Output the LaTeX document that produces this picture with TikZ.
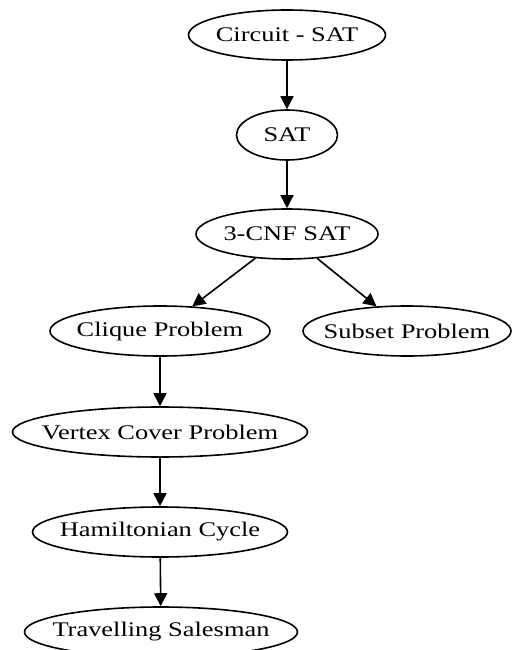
\documentclass[tikz,border=0pt]{standalone}
\usepackage{fontspec}
\setmainfont{Liberation Serif}[FakeStretch=1.27]
\usetikzlibrary{arrows.meta,shapes.geometric}
% zero-width text box so the ellipse takes exactly its minimum size
\newcommand{\probtext}[1]{\makebox[0pt]{#1}}
\begin{document}
\begin{tikzpicture}[x=1pt,y=-1pt,
  prob/.style={draw, ellipse, line width=1.6pt, inner sep=0pt,
    minimum height=50pt, font=\fontsize{20.8}{23}\selectfont},
  reduce/.style={line width=1.6pt, -{Triangle[length=13pt,width=13pt]}}]
\useasboundingbox (0,0) rectangle (512,650);
\node[prob, minimum width=197pt] (csat) at (287,35) {\probtext{Circuit - SAT}};
\node[prob, minimum width=101pt] (sat) at (287,135) {\probtext{SAT}};
\node[prob, minimum width=182pt] (cnf) at (287,234) {\probtext{3-CNF SAT}};
\node[prob, minimum width=220pt] (clique) at (160,331) {\probtext{Clique Problem}};
\node[prob, minimum width=208pt] (subset) at (407,331) {\probtext{Subset Problem}};
\node[prob, minimum width=295pt] (vc) at (160,432) {\probtext{Vertex Cover Problem}};
\node[prob, minimum width=255pt] (ham) at (160,532) {\probtext{Hamiltonian Cycle}};
\node[prob, minimum width=273pt] (tsp) at (161,632) {\probtext{Travelling Salesman}};
\draw[reduce] (csat) -- (sat);
\draw[reduce] (sat) -- (cnf);
\draw[reduce] (cnf) -- (clique);
\draw[reduce] (cnf) -- (subset);
\draw[reduce] (clique) -- (vc);
\draw[reduce] (vc) -- (ham);
\draw[reduce] (ham) -- (tsp);
\end{tikzpicture}
\end{document}
